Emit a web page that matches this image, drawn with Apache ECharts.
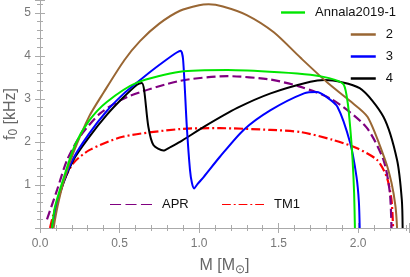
<!DOCTYPE html>
<html><head><meta charset="utf-8">
<script src="https://cdn.jsdelivr.net/npm/echarts@6/dist/echarts.min.js"></script>
<style>html,body{margin:0;padding:0;background:#fff}#c{width:410px;height:277px}</style>
</head><body><div id="c"></div>
<script>
const xTicks = [0.0, 0.5, 1.0, 1.5, 2.0];
const yTicks = [1, 2, 3, 4, 5];
const seriesNames = ['Annala2019-1', '2', '3', '4', 'APR', 'TM1'];
const annalaM = [0.075,0.094,0.145,0.22,0.31,0.42,0.61,0.88,1.18,1.50,1.70,1.85,1.91,1.935,1.95,1.965,1.975,1.98];
const annalaF = [0,0.49,1.12,1.93,2.5,2.93,3.38,3.63,3.67,3.62,3.56,3.45,3.33,2.9,2.35,1.6,0.8,0];
const eos2M = [0.085,0.11,0.15,0.21,0.31,0.40,0.53,0.63,0.75,0.88,1.0,1.06,1.15,1.30,1.47,1.64,1.81,1.95,2.06,2.17,2.21,2.235,2.245];
const eos2F = [0,0.5,1.1,1.75,2.6,3.15,3.9,4.35,4.75,5.05,5.18,5.2,5.15,4.95,4.55,3.95,3.37,2.95,2.58,1.58,1.05,0.5,0];
const eos3M = [0.075,0.126,0.21,0.31,0.42,0.52,0.61,0.70,0.79,0.86,0.885,0.90,0.923,0.943,0.955,0.969,0.99,1.03,1.13,1.28,1.45,1.66,1.74,1.80,1.87,1.95,1.99,2.005,2.01];
const eos3F = [0,0.83,1.62,2.2,2.72,3.1,3.38,3.65,3.9,4.08,4.12,3.9,2.36,1.35,1.05,0.92,1.02,1.19,1.65,2.28,2.74,3.13,3.16,3.05,2.82,1.98,1.19,0.6,0];
const eos4M = [0.075,0.126,0.21,0.31,0.42,0.52,0.61,0.64,0.655,0.681,0.713,0.776,0.82,0.88,1.03,1.24,1.45,1.70,1.79,2.01,2.16,2.245,2.275,2.28];
const eos4F = [0,0.81,1.58,2.12,2.63,3.02,3.33,3.37,3.2,2.36,1.93,1.80,1.88,2.0,2.35,2.79,3.13,3.40,3.44,3.25,2.58,1.58,0.65,0];
const aprM = [0.044,0.107,0.17,0.25,0.38,0.55,0.88,1.18,1.45,1.64,1.84,2.05,2.16,2.2,2.21];
const aprF = [0.2,0.88,1.58,2.12,2.67,3.05,3.42,3.53,3.45,3.28,2.98,2.35,1.58,0.81,0];
const tm1M = [0.063,0.08,0.145,0.21,0.31,0.52,0.88,1.13,1.45,1.64,1.84,1.99,2.12,2.18,2.21,2.22];
const tm1F = [0,0.26,1.05,1.51,1.81,2.12,2.3,2.32,2.28,2.23,2.05,1.86,1.58,1.19,0.65,0];

const zip = (a, b) => a.map((v, i) => [v, b[i]]);
const colors = ['#00e600', '#996633', '#0000ff', '#000000', '#800080', '#ff0000'];
const dataSets = [zip(annalaM, annalaF), zip(eos2M, eos2F), zip(eos3M, eos3F), zip(eos4M, eos4F), zip(aprM, aprF), zip(tm1M, tm1F)];
const types = ['solid', 'solid', 'solid', 'solid', [9, 4], [9, 3, 2, 3]];
const icons = [
  'path://M0,0H10V1H0Z', 'path://M0,0H10V1H0Z', 'path://M0,0H10V1H0Z', 'path://M0,0H10V1H0Z',
  'path://M0,0H10V1H0Z M14,0H24V1H14Z M28,0H38V1H28Z',
  'path://M0,0H9V1H0Z M12,0H14V1H12Z M17,0H26V1H17Z M29,0H31V1H29Z M34,0H43V1H34Z'
];

const gray = '#aaaaaa';
const labelColor = '#777777';
const tickCommon = { show: true, inside: true, length: 5, lineStyle: { color: gray } };
const minorCommon = { show: true, splitNumber: 5, length: 3, lineStyle: { color: gray } };
const XMIN = 0, XMAX = 2.32, YMIN = 0, YMAX = 5.3;

const chart = echarts.init(document.getElementById('c'), null, { renderer: 'canvas' });
const legendItem = (idx, right, left, top, w) => {
  const o = {
    data: [{ name: seriesNames[idx], icon: icons[idx] }], top: top, orient: 'horizontal',
    itemWidth: w, itemHeight: 2.5, padding: 0, itemStyle: { color: colors[idx] },
    textStyle: { fontSize: 13, color: '#111', fontFamily: 'Liberation Sans, Arial, sans-serif', padding: [0, 0, 0, 5] },
    selectedMode: false
  };
  if (right !== null) o.right = right; else o.left = left;
  return o;
};
chart.setOption({
  animation: false,
  grid: { left: 40, right: 1, top: 0, bottom: 49, containLabel: false, outerBoundsMode: 'none' },
  xAxis: [{
    type: 'value', min: XMIN, max: XMAX, interval: 0.5,
    axisLine: { show: true, lineStyle: { color: gray, width: 1 } },
    axisTick: tickCommon, minorTick: minorCommon, splitLine: { show: false },
    axisLabel: { color: labelColor, fontSize: 12, margin: 10, fontFamily: 'Liberation Sans, Arial, sans-serif',
      showMaxLabel: false, formatter: v => (xTicks.some(t => Math.abs(t - v) < 1e-6) ? v.toFixed(1) : '') },
    name: 'M [M{sub|⊙}]', nameLocation: 'middle', nameGap: 28, nameMoveOverlap: false,
    nameTextStyle: { color: '#666', fontSize: 16, fontFamily: 'Liberation Sans, Arial, sans-serif',
      rich: { sub: { fontSize: 12, color: '#666', verticalAlign: 'bottom', padding: [8, 0, 0, 0] } } }
  }, {
    type: 'value', position: 'top', min: XMIN, max: XMAX, interval: 0.5,
    axisLine: { show: true, lineStyle: { color: gray } }, axisTick: tickCommon, minorTick: minorCommon,
    axisLabel: { show: false }, splitLine: { show: false }
  }],
  yAxis: [{
    type: 'value', min: YMIN, max: YMAX, interval: 1,
    axisLine: { show: true, lineStyle: { color: gray, width: 1 } },
    axisTick: tickCommon, minorTick: minorCommon, splitLine: { show: false },
    axisLabel: { color: labelColor, fontSize: 12, margin: 9, fontFamily: 'Liberation Sans, Arial, sans-serif',
      showMaxLabel: false, formatter: v => (yTicks.some(t => Math.abs(t - v) < 1e-6) ? String(v) : '') },
    name: 'f{sub|0} [kHz]', nameLocation: 'middle', nameGap: 29, nameRotate: 90, nameMoveOverlap: false,
    nameTextStyle: { color: '#666', fontSize: 16, fontFamily: 'Liberation Sans, Arial, sans-serif',
      verticalAlign: 'middle', align: 'center',
      rich: { sub: { fontSize: 12, color: '#666', verticalAlign: 'bottom', padding: [6, 0, 0, 0] } } }
  }, {
    type: 'value', position: 'right', min: YMIN, max: YMAX, interval: 1,
    axisLine: { show: true, lineStyle: { color: gray } }, axisTick: tickCommon, minorTick: minorCommon,
    axisLabel: { show: false }, splitLine: { show: false }
  }],
  legend: [
    legendItem(0, 14, null, 6, 24),
    legendItem(1, 17, null, 28, 25),
    legendItem(2, 17, null, 50, 25),
    legendItem(3, 17, null, 72, 25),
    legendItem(4, null, 110, 198, 42),
    legendItem(5, null, 222, 198, 42)
  ],
  series: seriesNames.map((n, i) => ({
    name: n, type: 'line', data: dataSets[i], showSymbol: false, symbol: 'none',
    smooth: 0.25, clip: true,
    lineStyle: { color: colors[i], width: i >= 4 ? 2.2 : 2, type: types[i] },
    itemStyle: { color: colors[i] }, z: 10 - i
  }))
});
</script></body></html>
